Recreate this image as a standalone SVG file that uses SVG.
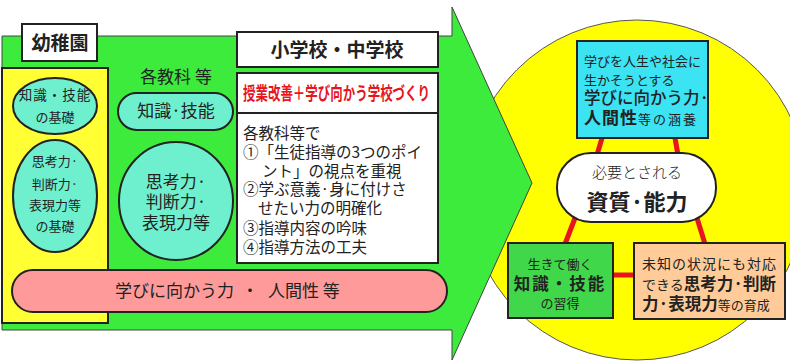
<svg xmlns="http://www.w3.org/2000/svg" width="790" height="364" viewBox="0 0 790 364">
<style>
text{font-family:"Noto Sans CJK JP","Noto Sans",sans-serif;fill:#222}
.b{font-weight:bold}
.box{stroke:#222;stroke-width:2}
.ell{fill:#6EF0CF;stroke:#222;stroke-width:2}
.red{stroke:#E8141E;stroke-width:5;fill:none}
.c{text-anchor:middle}
</style>
<rect width="790" height="364" fill="#fff"/>
<g id="circle"><circle cx="637" cy="190" r="170" fill="#FFFF00" stroke="#555" stroke-width="1"/></g>
<g id="arrow"><path d="M2,36 H452 V7 L532,183 L452,360 V330 H2 Z" fill="#3DEB3D" stroke="#444" stroke-width="1"/></g>
<g id="kinder">
<rect x="2" y="68" width="106" height="255" fill="#FFFF33" class="box"/>
<rect x="22" y="24" width="75" height="37" fill="#fff" class="box"/>
<text x="60" y="50" class="c b" font-size="19">幼稚園</text>
<ellipse cx="55" cy="106" rx="42" ry="28" class="ell"/>
<text x="55" y="100" class="c" font-size="13.5" letter-spacing="1">知識・技能</text>
<text x="55" y="122" class="c" font-size="13">の基礎</text>
<ellipse cx="55" cy="196" rx="42" ry="56" class="ell"/>
<text x="55" y="166" class="c" font-size="13">思考力·</text>
<text x="55" y="189" class="c" font-size="13">判断力·</text>
<text x="55" y="210" class="c" font-size="13">表現力等</text>
<text x="55" y="231" class="c" font-size="13">の基礎</text>
</g>
<g id="subjects">
<text x="176" y="83" class="c" font-size="17">各教科 等</text>
<rect x="118" y="93" width="115" height="37" rx="18.5" class="ell"/>
<text x="176" y="117" class="c" font-size="17">知識·技能</text>
<ellipse cx="176" cy="201" rx="57" ry="59" class="ell"/>
<text x="176" y="188" class="c" font-size="17">思考力·</text>
<text x="176" y="208" class="c" font-size="17">判断力·</text>
<text x="176" y="229" class="c" font-size="17">表現力等</text>
</g>
<g id="school">
<rect x="237" y="32" width="201" height="35" fill="#fff" class="box"/>
<text x="337" y="57" class="c b" font-size="19">小学校・中学校</text>
<rect x="237" y="73" width="201" height="40" fill="#fff" class="box"/>
<text x="243" y="100" font-size="18" class="b" style="fill:#E8141E" textLength="187" lengthAdjust="spacingAndGlyphs">授業改善＋学び向かう学校づくり</text>
<rect x="237" y="113" width="201" height="150" fill="#fff" class="box"/>
<text x="243" y="139" font-size="15.5">各教科等で</text>
<text x="243" y="158" font-size="15.5">①「生徒指導の3つのポイ</text>
<text x="262" y="177" font-size="15.5">ント」の視点を重視</text>
<text x="243" y="195" font-size="15.5">②学ぶ意義·身に付けさ</text>
<text x="258" y="214" font-size="15.5">せたい力の明確化</text>
<text x="243" y="234" font-size="15.5">③指導内容の吟味</text>
<text x="243" y="253" font-size="15.5">④指導方法の工夫</text>
</g>
<g id="attitude">
<rect x="12" y="270" width="435" height="42" rx="21" fill="#FF9A9A" class="box"/>
<text x="115" y="297" font-size="17">学びに向かう力</text>
<text x="250" y="297" class="c" font-size="17">・</text>
<text x="268" y="297" font-size="17">人間性 等</text>
</g>
<g id="connectors">
<line x1="602" y1="138" x2="597" y2="155" class="red"/>
<line x1="675" y1="138" x2="678" y2="155" class="red"/>
<line x1="575" y1="218" x2="565" y2="244" class="red"/>
<line x1="697" y1="218" x2="705" y2="244" class="red"/>
<line x1="613" y1="275" x2="635" y2="275" class="red"/>
</g>
<g id="humanity">
<rect x="577" y="41" width="131" height="97" fill="#3BE3F3" class="box"/>
<text x="584" y="66" font-size="13">学びを人生や社会に</text>
<text x="584" y="85" font-size="13">生かそうとする</text>
<text x="584" y="104" font-size="16.5" style="font-weight:500">学びに向かう力·</text>
<text x="584" y="124" font-size="17" class="b" letter-spacing="1">人間性<tspan font-size="13" style="font-weight:normal" letter-spacing="2">等の涵養</tspan></text>
</g>
<g id="core">
<rect x="557" y="153" width="159" height="69" rx="34" fill="#fff" class="box"/>
<text x="637" y="178" class="c" font-size="15" style="font-weight:300">必要とされる</text>
<text x="637" y="210" class="c b" font-size="22">資質·能力</text>
</g>
<g id="knowledge">
<rect x="508" y="243" width="105" height="75" fill="#40D84A" class="box"/>
<text x="560" y="269" class="c" font-size="13">生きて働く</text>
<text x="560" y="290" class="c b" font-size="16.5" letter-spacing="2">知識・技能</text>
<text x="560" y="308" class="c" font-size="13">の習得</text>
</g>
<g id="thinking">
<rect x="634" y="243" width="151" height="76" fill="#FFCC99" class="box"/>
<text x="642" y="269" font-size="14" letter-spacing="1">未知の状況にも対応</text>
<text x="642" y="290" font-size="14">できる<tspan font-size="16.5" class="b">思考力·判断</tspan></text>
<text x="642" y="310" font-size="16.5" class="b">力·表現力<tspan font-size="13" style="font-weight:normal">等の育成</tspan></text>
</g>
</svg>
